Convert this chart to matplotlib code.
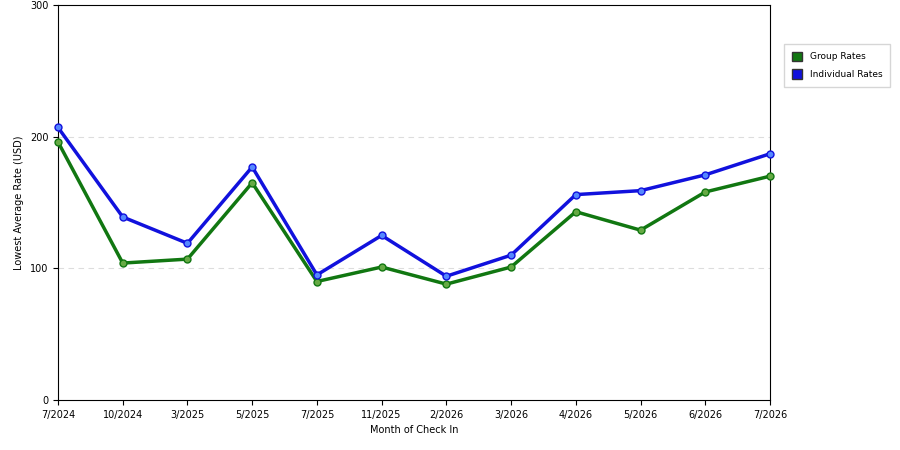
import matplotlib
matplotlib.use("Agg")
import matplotlib.pyplot as plt
from matplotlib.patches import Patch

months = ["7/2024","10/2024","3/2025","5/2025","7/2025","11/2025","2/2026","3/2026","4/2026","5/2026","6/2026","7/2026"]
group = [196,104,107,165,90,101,88,101,143,129,158,170]
indiv = [207,139,119,177,95,125,94,110,156,159,171,187]

fig = plt.figure(figsize=(9,4.5), dpi=100)
ax = fig.add_axes([58/900, 1-400/450, 712/900, 395/450])
x = range(len(months))
ax.plot(x, group, color="#117711", lw=2.5, marker="o", ms=5, mfc="#66aa44", mec="#117711", zorder=3, clip_on=False)
ax.plot(x, indiv, color="#1111dd", lw=2.5, marker="o", ms=5, mfc="#5588ff", mec="#1111dd", zorder=3, clip_on=False)
ax.set_xlim(0, len(months)-1)
ax.set_ylim(0, 300)
ax.set_yticks([0,100,200,300])
ax.set_xticks(list(x))
ax.set_xticklabels(months)
ax.tick_params(labelsize=7)
for v in [100,200]:
    ax.axhline(v, color="#dddddd", ls=(0,(5,4)), lw=0.8, zorder=1)
ax.set_xlabel("Month of Check In", fontsize=7)
ax.set_ylabel("Lowest Average Rate (USD)", fontsize=7)
handles = [Patch(facecolor="#117711", edgecolor="#333333", label="Group Rates"),
           Patch(facecolor="#1111dd", edgecolor="#333333", label="Individual Rates")]
fig.legend(handles=handles, loc="upper left", bbox_to_anchor=(779/900, 1-39/450),
           fontsize=6.5, frameon=True, fancybox=False, edgecolor="#cccccc",
           handlelength=1.2, handleheight=1.2, labelspacing=0.9, borderpad=0.9)
fig.savefig("out.png", dpi=100)
